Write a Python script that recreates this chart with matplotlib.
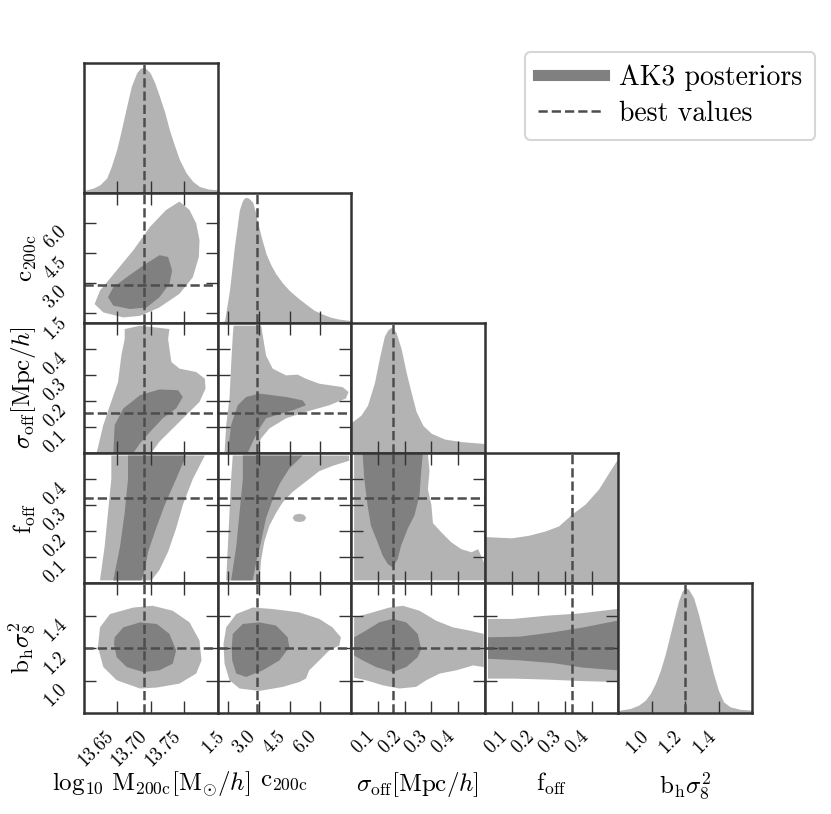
import matplotlib.pyplot as plt
from matplotlib.lines import Line2D
from matplotlib.ticker import FixedLocator, FormatStrFormatter

plt.rcParams['font.family'] = 'serif'
plt.rcParams['font.serif'] = ['cmr10']
plt.rcParams['mathtext.fontset'] = 'cm'
plt.rcParams['axes.formatter.use_mathtext'] = True

# parameter names, ranges, ticks, best-fit values
labels = [r'$\log_{10}\,\mathrm{M_{200c}}[\mathrm{M}_{\odot}/h]$', r'$\mathrm{c_{200c}}$',
          r'$\sigma_\mathrm{off}[\mathrm{Mpc}/h]$', r'$\mathrm{f_{off}}$', r'$\mathrm{b_h}\sigma_8^2$']
lims = [(13.60, 13.80), (1.0, 7.5), (0.0, 0.5), (0.0, 0.5), (0.8, 1.6)]
ticks = [[13.65, 13.70, 13.75], [1.5, 3.0, 4.5, 6.0], [0.1, 0.2, 0.3, 0.4],
         [0.1, 0.2, 0.3, 0.4], [1.0, 1.2, 1.4]]
tick_fmt = ['%.2f', '%.1f', '%.1f', '%.1f', '%.1f']
best = [13.69, 2.9, 0.155, 0.325, 1.2]

# 1D marginal posteriors (peak normalised)
logm_x = [13.600, 13.604, 13.614, 13.624, 13.634, 13.641, 13.649, 13.656, 13.664, 13.671,
          13.679, 13.684, 13.689, 13.694, 13.699, 13.706, 13.713, 13.721, 13.728, 13.736,
          13.743, 13.753, 13.763, 13.773, 13.786, 13.800]
logm_pdf = [0.02, 0.024, 0.037, 0.064, 0.117, 0.21, 0.344, 0.50, 0.69, 0.85,
            0.957, 0.99, 1.0, 0.984, 0.957, 0.877, 0.77, 0.64, 0.50, 0.37,
            0.264, 0.158, 0.09, 0.05, 0.03, 0.024]
c_x = [1.0, 1.34, 1.58, 1.82, 2.06, 2.20, 2.30, 2.39, 2.50, 2.60, 2.71, 2.83, 2.95, 3.15,
       3.36, 3.60, 3.84, 4.15, 4.48, 4.90, 5.29, 5.70, 6.10, 6.50, 6.90, 7.39, 7.5]
c_pdf = [0.0, 0.016, 0.26, 0.61, 0.90, 0.97, 0.995, 1.0, 0.995, 0.98, 0.96, 0.89, 0.80, 0.67,
         0.55, 0.46, 0.39, 0.32, 0.26, 0.20, 0.15, 0.10, 0.07, 0.045, 0.03, 0.02, 0.02]
sig_x = [0.0, 0.005, 0.036, 0.061, 0.087, 0.105, 0.124, 0.137, 0.149, 0.158, 0.168, 0.187,
         0.206, 0.224, 0.243, 0.268, 0.300, 0.350, 0.412, 0.488, 0.5]
sig_pdf = [0.25, 0.25, 0.30, 0.38, 0.56, 0.75, 0.93, 0.98, 1.0, 0.99, 0.96, 0.83,
           0.64, 0.485, 0.33, 0.22, 0.156, 0.11, 0.09, 0.077, 0.075]
f_x = [0.0, 0.100, 0.163, 0.226, 0.276, 0.326, 0.376, 0.426, 0.464, 0.5]
f_pdf = [0.37, 0.36, 0.38, 0.415, 0.455, 0.55, 0.63, 0.75, 0.88, 1.0]
b_x = [0.8, 0.812, 0.872, 0.921, 0.961, 0.991, 1.021, 1.051, 1.081, 1.110, 1.140, 1.160,
       1.180, 1.200, 1.220, 1.250, 1.279, 1.309, 1.339, 1.369, 1.399, 1.429, 1.469, 1.528, 1.6]
b_pdf = [0.02, 0.024, 0.037, 0.063, 0.103, 0.156, 0.235, 0.34, 0.473, 0.63, 0.79, 0.895,
         0.968, 1.0, 0.987, 0.92, 0.79, 0.63, 0.473, 0.314, 0.18, 0.09, 0.05, 0.03, 0.024]

# 2D credible regions (outer = 95%, inner = 68%)
m_c_outer = [(13.616, 1.94), (13.624, 2.61), (13.649, 3.62), (13.674, 4.63), (13.699, 5.80),
             (13.723, 6.64), (13.743, 7.06), (13.758, 6.64), (13.768, 5.97), (13.773, 5.13),
             (13.772, 4.29), (13.763, 3.28), (13.743, 2.45), (13.713, 1.77), (13.684, 1.35),
             (13.659, 1.27), (13.629, 1.52)]
m_c_inner = [(13.636, 2.28), (13.644, 2.78), (13.664, 3.28), (13.689, 3.87), (13.713, 4.38),
             (13.726, 4.29), (13.732, 3.62), (13.728, 2.95), (13.713, 2.28), (13.694, 1.77),
             (13.669, 1.69), (13.644, 1.86)]
m_s_outer = [(13.619, 0.0), (13.629, 0.107), (13.639, 0.183), (13.651, 0.272), (13.656, 0.374),
             (13.661, 0.438), (13.661, 0.476), (13.684, 0.489), (13.728, 0.476), (13.726, 0.438),
             (13.728, 0.400), (13.731, 0.349), (13.743, 0.324), (13.768, 0.311), (13.781, 0.285),
             (13.782, 0.247), (13.773, 0.196), (13.753, 0.145), (13.733, 0.094), (13.713, 0.043),
             (13.701, 0.0)]
m_s_inner = [(13.644, 0.0), (13.646, 0.107), (13.659, 0.171), (13.684, 0.222), (13.713, 0.244),
             (13.741, 0.241), (13.748, 0.215), (13.738, 0.171), (13.718, 0.133), (13.699, 0.081),
             (13.684, 0.037), (13.674, 0.0)]
c_s_outer = [(1.34, 0.0), (1.42, 0.107), (1.58, 0.209), (1.66, 0.336), (1.74, 0.451), (1.78, 0.489),
             (3.12, 0.489), (3.20, 0.451), (3.36, 0.374), (3.68, 0.324), (4.33, 0.298), (4.89, 0.301),
             (5.30, 0.285), (5.95, 0.266), (7.08, 0.253), (7.37, 0.234), (7.24, 0.209), (6.43, 0.183),
             (5.30, 0.158), (4.33, 0.133), (3.52, 0.094), (3.12, 0.056), (2.88, 0.0)]
c_s_inner = [(1.50, 0.0), (1.66, 0.107), (1.98, 0.183), (2.39, 0.215), (3.04, 0.228), (4.33, 0.215),
             (5.14, 0.202), (5.30, 0.183), (4.65, 0.164), (3.36, 0.133), (3.04, 0.094), (2.71, 0.043),
             (2.47, 0.0)]
m_f_outer = [(13.624, 0.01), (13.631, 0.14), (13.636, 0.27), (13.641, 0.40), (13.641, 0.49),
             (13.781, 0.49), (13.763, 0.40), (13.748, 0.30), (13.738, 0.21), (13.726, 0.12),
             (13.713, 0.05), (13.701, 0.01)]
m_f_inner = [(13.644, 0.01), (13.654, 0.14), (13.661, 0.27), (13.666, 0.40), (13.666, 0.49),
             (13.753, 0.49), (13.738, 0.40), (13.721, 0.30), (13.708, 0.21), (13.696, 0.12),
             (13.691, 0.05), (13.686, 0.01)]
c_f_outer = [(1.42, 0.01), (1.50, 0.14), (1.58, 0.27), (1.66, 0.40), (1.74, 0.49), (7.40, 0.49),
             (7.40, 0.47), (6.59, 0.45), (5.95, 0.43), (5.30, 0.39), (4.65, 0.35), (4.17, 0.31),
             (3.85, 0.27), (3.52, 0.22), (3.28, 0.16), (3.12, 0.09), (3.04, 0.01)]
c_f_inner = [(1.66, 0.01), (1.91, 0.14), (2.07, 0.27), (2.23, 0.40), (2.23, 0.49), (5.14, 0.49),
             (4.49, 0.44), (4.01, 0.38), (3.68, 0.32), (3.36, 0.25), (3.12, 0.16), (2.88, 0.08),
             (2.71, 0.01)]
c_f_island = [(4.65, 0.25), (4.75, 0.262), (4.98, 0.266), (5.21, 0.262), (5.31, 0.25),
              (5.21, 0.238), (4.98, 0.234), (4.75, 0.238)]
s_f_outer = [(0.011, 0.01), (0.011, 0.495), (0.287, 0.495), (0.293, 0.43), (0.287, 0.36),
             (0.300, 0.30), (0.306, 0.23), (0.337, 0.195), (0.375, 0.156), (0.412, 0.13),
             (0.450, 0.118), (0.475, 0.13), (0.497, 0.079), (0.497, 0.01)]
s_f_inner = [(0.043, 0.495), (0.049, 0.40), (0.061, 0.30), (0.074, 0.22), (0.099, 0.156),
             (0.118, 0.105), (0.137, 0.073), (0.155, 0.06), (0.174, 0.092), (0.187, 0.144),
             (0.212, 0.21), (0.237, 0.26), (0.256, 0.34), (0.262, 0.43), (0.268, 0.495)]
m_b_outer = [(13.624, 1.327), (13.639, 1.409), (13.674, 1.449), (13.703, 1.460), (13.733, 1.429),
             (13.758, 1.358), (13.773, 1.246), (13.776, 1.124), (13.768, 1.043), (13.743, 0.981),
             (13.709, 0.957), (13.684, 0.951), (13.649, 1.002), (13.629, 1.083), (13.621, 1.205)]
m_b_inner = [(13.646, 1.266), (13.659, 1.327), (13.684, 1.358), (13.709, 1.348), (13.728, 1.287),
             (13.738, 1.185), (13.733, 1.104), (13.713, 1.063), (13.689, 1.052), (13.664, 1.083),
             (13.649, 1.144), (13.645, 1.226)]
c_b_outer = [(1.42, 1.327), (1.91, 1.409), (2.71, 1.449), (3.68, 1.440), (4.98, 1.419), (5.95, 1.379),
             (6.59, 1.327), (7.00, 1.266), (6.92, 1.215), (6.43, 1.185), (5.95, 1.124), (5.46, 1.063),
             (5.30, 1.012), (4.98, 0.991), (4.17, 0.961), (3.04, 0.936), (2.07, 0.951), (1.58, 1.002),
             (1.34, 1.104), (1.29, 1.226)]
c_b_inner = [(1.74, 1.287), (2.23, 1.348), (3.04, 1.358), (3.85, 1.338), (4.41, 1.266), (4.49, 1.205),
             (4.01, 1.124), (3.20, 1.063), (2.39, 1.022), (1.91, 1.043), (1.71, 1.124), (1.69, 1.205)]
s_b_outer = [(0.011, 1.388), (0.080, 1.419), (0.143, 1.449), (0.193, 1.460), (0.256, 1.429),
             (0.318, 1.368), (0.381, 1.327), (0.444, 1.307), (0.496, 1.287), (0.496, 1.083),
             (0.456, 1.093), (0.394, 1.063), (0.331, 1.043), (0.281, 1.002), (0.243, 0.961),
             (0.180, 0.951), (0.118, 0.971), (0.055, 1.002), (0.011, 1.018)]
s_b_inner = [(0.011, 1.266), (0.055, 1.307), (0.105, 1.358), (0.155, 1.379), (0.206, 1.358),
             (0.249, 1.287), (0.262, 1.195), (0.249, 1.144), (0.206, 1.083), (0.155, 1.052),
             (0.093, 1.083), (0.043, 1.124), (0.011, 1.154)]
f_b_outer = [(0.012, 1.379), (0.106, 1.379), (0.232, 1.399), (0.357, 1.413), (0.495, 1.440),
             (0.495, 0.991), (0.357, 0.997), (0.232, 1.006), (0.106, 1.012), (0.012, 1.012)]
f_b_inner = [(0.012, 1.266), (0.132, 1.270), (0.257, 1.297), (0.370, 1.327), (0.495, 1.368),
             (0.495, 1.063), (0.370, 1.079), (0.257, 1.107), (0.132, 1.124), (0.012, 1.134)]

light = '#b3b3b3'
dark = '#808080'
line_col = '#4d4d4d'
frame_col = '#333333'

marginals = [(logm_x, logm_pdf), (c_x, c_pdf), (sig_x, sig_pdf), (f_x, f_pdf), (b_x, b_pdf)]
regions = {
    (1, 0): [(m_c_outer, light), (m_c_inner, dark)],
    (2, 0): [(m_s_outer, light), (m_s_inner, dark)],
    (2, 1): [(c_s_outer, light), (c_s_inner, dark)],
    (3, 0): [(m_f_outer, light), (m_f_inner, dark)],
    (3, 1): [(c_f_outer, light), (c_f_island, light), (c_f_inner, dark)],
    (3, 2): [(s_f_outer, light), (s_f_inner, dark)],
    (4, 0): [(m_b_outer, light), (m_b_inner, dark)],
    (4, 1): [(c_b_outer, light), (c_b_inner, dark)],
    (4, 2): [(s_b_outer, light), (s_b_inner, dark)],
    (4, 3): [(f_b_outer, light), (f_b_inner, dark)],
}

fig = plt.figure(figsize=(8.31, 8.14), dpi=100)
gs = fig.add_gridspec(5, 5, left=0.101, right=0.905, bottom=0.124, top=0.923,
                      wspace=0, hspace=0)

n = len(labels)
for i in range(n):
    for j in range(i + 1):
        ax = fig.add_subplot(gs[i, j])
        for s in ax.spines.values():
            s.set_linewidth(1.8)
            s.set_color(frame_col)

        if i == j:
            x, p = marginals[i]
            ax.fill_between(x, 0, p, color=light, lw=0)
            ax.axvline(best[j], color=line_col, ls='--', lw=1.8)
            ax.set_ylim(0, 1.037)
            ax.set_yticks([])
            ax.tick_params(axis='x', direction='in', length=8.5, width=1.0,
                           color=frame_col, top=False, pad=10, labelsize=13.5)
        else:
            for pts, col in regions[(i, j)]:
                xs, ys = zip(*pts)
                ax.fill(xs, ys, color=col, lw=0)
            ax.axvline(best[j], color=line_col, ls='--', lw=1.8)
            ax.axhline(best[i], color=line_col, ls='--', lw=1.8)
            ax.set_ylim(*lims[i])
            ax.yaxis.set_major_locator(FixedLocator(ticks[i]))
            ax.yaxis.set_major_formatter(FormatStrFormatter(tick_fmt[i]))
            ax.tick_params(direction='in', length=8.5, width=1.0, color=frame_col,
                           top=True, right=True, pad=10, labelsize=13.5)

        ax.set_xlim(*lims[j])
        ax.xaxis.set_major_locator(FixedLocator(ticks[j]))
        ax.xaxis.set_major_formatter(FormatStrFormatter(tick_fmt[j]))

        if i == n - 1:
            for lab in ax.get_xticklabels():
                lab.set_rotation(45)
                lab.set_ha('right')
                lab.set_va('top')
            ax.set_xlabel(labels[j], fontsize=18)
            ax.xaxis.set_label_coords(0.5, -0.44)
        else:
            ax.set_xticklabels([])

        if j == 0 and i > 0:
            for lab in ax.get_yticklabels():
                lab.set_rotation(45)
                lab.set_ha('right')
                lab.set_va('top')
            ax.set_ylabel(labels[i], fontsize=18)
            ax.yaxis.set_label_coords(-0.34, 0.5)
        elif i != j:
            ax.set_yticklabels([])

handles = [Line2D([], [], color=dark, lw=8),
           Line2D([], [], color=line_col, lw=1.8, ls='--')]
leg = fig.legend(handles, ['AK3 posteriors', 'best values'], loc='upper right',
                 bbox_to_anchor=(0.981, 0.936), borderaxespad=0, fontsize=20,
                 frameon=True, fancybox=True, edgecolor='#cccccc', handlelength=2.4,
                 borderpad=0.45, labelspacing=0.35, handletextpad=0.55)
leg.get_frame().set_linewidth(1.5)

fig.savefig('out.png', dpi=100)
